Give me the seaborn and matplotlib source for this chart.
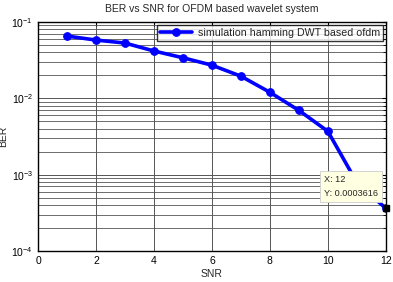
import numpy as np
import matplotlib
matplotlib.use("Agg")
import matplotlib.pyplot as plt
import seaborn as sns
import pandas as pd

SNR = [1, 2, 3, 4, 5, 6, 7, 8, 9, 10, 11, 12]
BER = [0.0654, 0.058, 0.053, 0.0417, 0.034, 0.0272, 0.0195, 0.012,
       0.00695, 0.0037, 0.00079, 0.0003616]
LABEL = "simulation hamming DWT based ofdm"

sns.set_style("white")
plt.rcParams['font.family'] = ['Liberation Sans', 'DejaVu Sans']

df = pd.DataFrame({"SNR": SNR, "BER": BER, "series": LABEL})

fig = plt.figure(figsize=(3.93, 2.82), dpi=100)
ax = fig.add_axes([0.0967, 0.110, 0.885, 0.812])

sns.lineplot(data=df, x="SNR", y="BER", hue="series", palette=["#0000ff"],
             marker="o", markersize=5.5, linewidth=2.6, markeredgecolor="#0000ff",
             ax=ax)

ax.set_yscale("log")
ax.set_xlim(0, 12)
ax.set_ylim(1e-4, 1e-1)
ax.set_xticks([0, 2, 4, 6, 8, 10, 12])

ax.grid(True, which="major", axis="both", color="#555555", linewidth=0.7)
ax.grid(True, which="minor", axis="y", color="#555555", linewidth=0.6)
ax.set_axisbelow(True)
for s in ax.spines.values():
    s.set_color("black")
    s.set_linewidth(1.0)

ax.tick_params(which="both", direction="in", top=True, right=True,
               labelsize=7.5, colors="black", length=3)
ax.tick_params(which="minor", length=2)
ax.set_xlabel("SNR", fontsize=7.5, labelpad=2)
ax.set_ylabel("BER", fontsize=7.5, labelpad=2)
ax.set_title("BER vs SNR for OFDM based wavelet system", fontsize=7.5, pad=7)

leg = ax.legend(loc="upper right", fontsize=7.7, frameon=True, fancybox=False,
                borderpad=0.3, handlelength=3.0, handletextpad=0.5,
                borderaxespad=0.25)
leg.get_frame().set_edgecolor("black")
leg.get_frame().set_linewidth(1.0)

# data tip
ax.plot([SNR[-1]], [BER[-1]], marker="s", color="black", markersize=4,
        clip_on=False, zorder=6)
ax.annotate(f"X: {SNR[-1]}\nY: {BER[-1]}", xy=(SNR[-1], BER[-1]),
            xytext=(-62, 10), textcoords="offset pixels", fontsize=6.6,
            va="bottom", ha="left", zorder=7, linespacing=1.7,
            bbox=dict(boxstyle="square,pad=0.45", fc="#ffffe1", ec="#cccccc",
                      lw=0.6))

fig.savefig("out.png", dpi=100)
